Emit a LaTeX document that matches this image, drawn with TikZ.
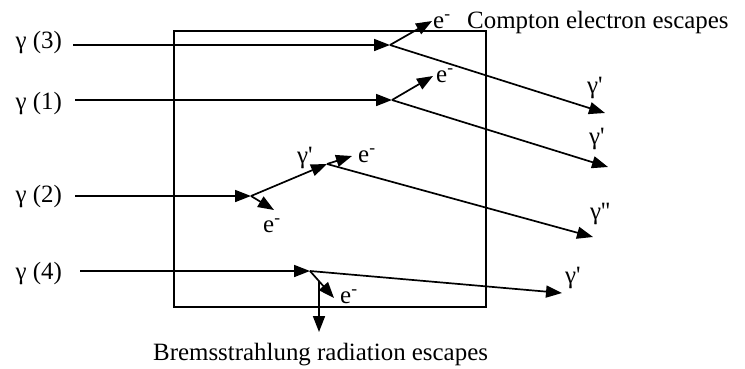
\documentclass[tikz,border=0pt]{standalone}
\usepackage{fontspec}
\setmainfont{Liberation Serif}
\usetikzlibrary{arrows.meta}
\newcommand{\elec}{e\textsuperscript{-}}
\newcommand{\gam}{γ\textquotesingle}
\tikzset{
  ray/.style={line width=1.7bp, -{Triangle[length=16bp,width=12bp]}},
  lbl/.style={font=\fontsize{25}{28}\selectfont, inner sep=0pt},
}

\begin{document}
\begin{tikzpicture}[x=1bp,y=-1bp]
  \useasboundingbox (0,0) rectangle (745,368);
  % absorber
  \draw[line width=1.5bp] (174,31) rectangle (486,307);

  % interaction points
  \coordinate (in3) at (73,45);
  \coordinate (c3) at (390,45);
  \coordinate (e3) at (432,21);
  \coordinate (g3) at (605,113);
  \coordinate (in1) at (75,100);
  \coordinate (c1) at (392,100);
  \coordinate (e1) at (433,76);
  \coordinate (g1) at (608,167);
  \coordinate (in2) at (75,196);
  \coordinate (c2a) at (251,196);
  \coordinate (e2a) at (274,210);
  \coordinate (c2b) at (327,164);
  \coordinate (e2b) at (352,156);
  \coordinate (g2) at (593,237);
  \coordinate (in4) at (80,271);
  \coordinate (c4) at (310,271);
  \coordinate (e4) at (334,298);
  \coordinate (brem) at (319,281);
  \coordinate (bremout) at (319,332);
  \coordinate (g4) at (562,293);

  % labels
  \node[lbl, anchor=east] (l3) at (62,43) {γ (3)};
  \node[lbl, anchor=east] (l1) at (62,104) {γ (1)};
  \node[lbl, anchor=east] (l2) at (62,197) {γ (2)};
  \node[lbl, anchor=east] (l4) at (62,274) {γ (4)};
  \node[lbl, anchor=base west] (le3) at (433,28) {\elec};
  \node[lbl, anchor=base west] (compton) at (467,28) {Compton electron escapes};
  \node[lbl, anchor=base west] (le1) at (436,82) {\elec};
  \node[lbl, anchor=base west] (le2a) at (263,232) {\elec};
  \node[lbl, anchor=base west] (lg2) at (297,163) {\gam};
  \node[lbl, anchor=base west] (le2b) at (358,162) {\elec};
  \node[lbl, anchor=base west] (le4) at (340,303) {\elec};
  \node[lbl, anchor=base west] (lg3) at (587,93) {\gam};
  \node[lbl, anchor=base west] (lg1) at (589,144) {\gam};
  \node[lbl, anchor=base west] (lg22) at (590,219) {γ\textquotesingle\textquotesingle};
  \node[lbl, anchor=base west] (lg4) at (565,283) {\gam};
  \node[lbl, anchor=base west] (bremtxt) at (153,360) {Bremsstrahlung radiation escapes};

  % photon 3
  \draw[ray] (in3) -- (c3);
  \draw[ray] (c3) -- (e3);
  \draw[ray] (c3) -- (g3);
  % photon 1
  \draw[ray] (in1) -- (c1);
  \draw[ray] (c1) -- (e1);
  \draw[ray] (c1) -- (g1);
  % photon 2
  \draw[ray] (in2) -- (c2a);
  \draw[ray] (c2a) -- (e2a);
  \draw[ray] (c2a) -- (c2b);
  \draw[ray] (c2b) -- (e2b);
  \draw[ray] (c2b) -- (g2);
  % photon 4
  \draw[ray] (in4) -- (c4);
  \draw[ray] (c4) -- (e4);
  \draw[ray] (brem) -- (bremout);
  \draw[ray] (c4) -- (g4);
\end{tikzpicture}
\end{document}
